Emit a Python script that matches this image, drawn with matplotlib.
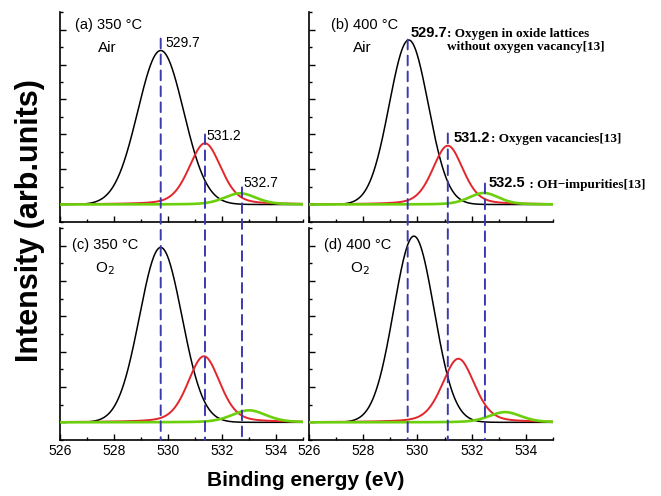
import numpy as np
import matplotlib.pyplot as plt
from matplotlib.patches import ConnectionPatch
from matplotlib.ticker import MultipleLocator, NullFormatter

plt.rcParams['font.family'] = ['Liberation Sans', 'DejaVu Sans']

# panel titles and annealing atmosphere
panel_titles = ['(a) 350 °C', '(b) 400 °C', '(c) 350 °C', '(d) 400 °C']
atmospheres = ['Air', 'Air', 'O$_2$', 'O$_2$']

# fitted O1s components per panel: [lattice O, O vacancy, OH]
centers = [[529.73, 531.37, 532.67],
           [529.68, 531.12, 532.45],
           [529.73, 531.33, 533.00],
           [529.87, 531.51, 533.23]]
heights = [[4.40, 1.75, 0.32],
           [4.70, 1.68, 0.33],
           [4.95, 1.87, 0.34],
           [5.27, 1.80, 0.29]]
fwhms = [[2.00, 1.40, 1.40],
         [1.70, 1.32, 1.30],
         [1.85, 1.40, 1.50],
         [1.75, 1.40, 1.40]]
lorentz_frac = [0.0, 0.3, 0.3]

# marked peak positions (left column, right column)
mark_pos = [[529.73, 531.37, 532.74], [529.64, 531.12, 532.49]]
mark_top = [[4.74, 2.00, 0.49], [4.71, 2.03, 0.60]]
mark_labels = [['529.7', '531.2', '532.7'], ['529.7', '531.2', '532.5']]
assignments = [': Oxygen in oxide lattices\nwithout oxygen vacancy[13]',
               ': Oxygen vacancies[13]',
               ' : OH\u2212impurities[13]']

comp_colors = ['black', '#e3262b', '#6ccf0c']
comp_lw = [1.1, 1.4, 1.9]
dash_color = '#3a3aae'

energy = np.linspace(526, 535, 900)


def component(x, c, h, w, m):
    g = np.exp(-4 * np.log(2) * (x - c) ** 2 / w ** 2)
    l = 1.0 / (1 + 4 * (x - c) ** 2 / w ** 2)
    return h * ((1 - m) * g + m * l)


fig = plt.figure(figsize=(6.61, 4.96), dpi=100)
W, H = 661, 496
boxes = [(60, 12, 303, 222), (309, 12, 553, 222),
         (60, 228, 303, 440), (309, 228, 553, 440)]
axes = []
for (x0, y0, x1, y1) in boxes:
    ax = fig.add_axes([x0 / W, 1 - y1 / H, (x1 - x0) / W, (y1 - y0) / H])
    axes.append(ax)

title_pos = [(0.062, 0.938, 0.156, 0.829), (0.089, 0.938, 0.18, 0.829),
             (0.050, 0.920, 0.144, 0.810), (0.061, 0.920, 0.168, 0.810)]

for i, ax in enumerate(axes):
    for k in range(3):
        y = component(energy, centers[i][k], heights[i][k], fwhms[i][k], lorentz_frac[k])
        ax.plot(energy, y, color=comp_colors[k], lw=comp_lw[k], zorder=2 + k)
    ax.set_xlim(526, 535)
    ax.set_ylim(-0.5, 5.5)
    for s in ['top', 'right']:
        ax.spines[s].set_visible(False)
    for s in ['left', 'bottom']:
        ax.spines[s].set_linewidth(1.2)
    ax.xaxis.set_major_locator(MultipleLocator(2))
    ax.xaxis.set_minor_locator(MultipleLocator(1))
    ax.yaxis.set_major_locator(MultipleLocator(1))
    ax.yaxis.set_minor_locator(MultipleLocator(0.5))
    ax.tick_params(which='both', direction='in', width=1.0, labelsize=10, pad=3)
    ax.tick_params(which='major', length=4)
    ax.tick_params(which='minor', length=2.5)
    ax.yaxis.set_major_formatter(NullFormatter())
    if i < 2:
        ax.xaxis.set_major_formatter(NullFormatter())
    tx, ty, ax2, ay2 = title_pos[i]
    ax.text(tx, ty, panel_titles[i], transform=ax.transAxes, fontsize=10.5,
            ha='left', va='center')
    ax.text(ax2, ay2, atmospheres[i], transform=ax.transAxes, fontsize=11,
            ha='left', va='center')

# dashed markers running through both rows
for col in range(2):
    top_ax, bot_ax = axes[col], axes[col + 2]
    for k in range(3):
        x = mark_pos[col][k]
        con = ConnectionPatch(xyA=(x, mark_top[col][k]), coordsA=top_ax.transData,
                              xyB=(x, -0.5), coordsB=bot_ax.transData,
                              color=dash_color, lw=1.4, linestyle=(0, (5, 3.2)))
        fig.add_artist(con)

# peak labels, panel (a)
offs_a = [(0.18, -0.13), (0.07, -0.03), (0.04, 0.11)]
for k in range(3):
    dx, dy = offs_a[k]
    axes[0].text(mark_pos[0][k] + dx, mark_top[0][k] + dy, mark_labels[0][k],
                 fontsize=10, ha='left', va='center')

# peak labels with assignments, panel (b)
offs_b = [(0.09, 0.20), (0.23, -0.12), (0.15, 0.0)]
for k in range(3):
    dx, dy = offs_b[k]
    t = axes[1].text(mark_pos[1][k] + dx, mark_top[1][k] + dy, mark_labels[1][k],
                     fontsize=10.5, fontweight='bold', ha='left', va='center')
    axes[1].annotate(assignments[k], xy=(1, 0.85), xycoords=t, ha='left', va='top',
                     fontsize=9.5, fontweight='bold', family='Liberation Serif',
                     linespacing=1.1, annotation_clip=False)

fig.text(30 / W, 1 - 221 / H, 'Intensity (arb.units)', rotation=90, fontsize=22,
         fontweight='bold', ha='center', va='center')
fig.text(306 / W, 1 - 481 / H, 'Binding energy (eV)', fontsize=15,
         fontweight='bold', ha='center', va='center')

fig.savefig('out.png', dpi=100)
